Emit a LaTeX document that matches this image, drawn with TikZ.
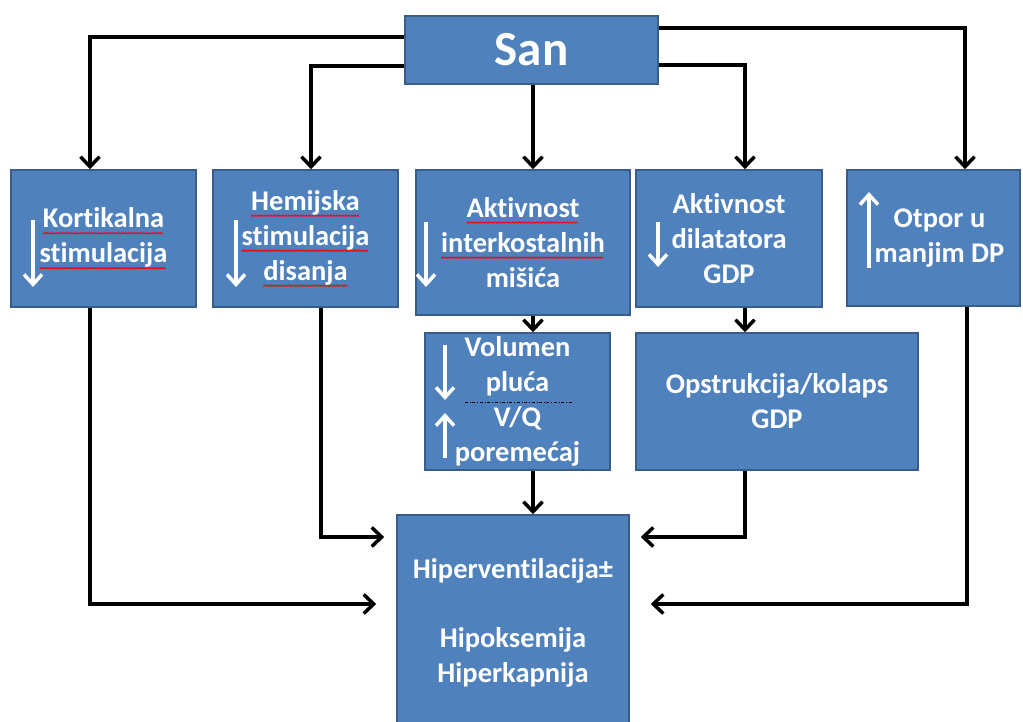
\documentclass[tikz,border=0pt]{standalone}
\usepackage{fontspec}
\setmainfont{Carlito}[Ligatures=NoCommon]
\usetikzlibrary{arrows.meta}

\definecolor{boxblue}{HTML}{4F81BD}
\definecolor{boxedge}{HTML}{385D8A}

% crvena valovita linija ispod rijeci
\newsavebox{\wavebox}
\sbox{\wavebox}{\tikz{\useasboundingbox (0pt,0pt) rectangle (3pt,1.5pt);
    \draw[red, line width=0.9pt] (0pt,0pt) -- (1.5pt,1.5pt) -- (3pt,0pt);}}
\newcommand{\spell}[1]{\setbox0\hbox{#1}\rlap{\raisebox{-6pt}{\leaders\copy\wavebox\hskip\wd0}}\box0}

\tikzset{
    blok/.style={draw=boxedge, line width=1.5pt, fill=boxblue, text=white, align=center,
        inner sep=0pt, font=\bfseries\fontsize{28.5}{35}\selectfont},
    veza/.style={line width=3.5pt, -{Straight Barb[length=10pt,width=19pt]}},
    trend/.style={white, line width=3.5pt, -{Straight Barb[length=10pt,width=18pt]}},
}

\begin{document}
\begin{tikzpicture}[x=1pt, y=-1pt]
    \useasboundingbox (0,0) rectangle (1023,722);

    \node[blok, minimum width=253pt, minimum height=68pt, font=\bfseries\fontsize{49}{52}\selectfont] (san) at (531.5,50) {San};

    \node[blok, minimum width=185pt, minimum height=137pt] (kort) at (103.5,238.5) {\spell{Kortikalna}\\\spell{stimulacija}};
    \node[blok, minimum width=185pt, minimum height=137pt] (hem) at (305.5,238.5) {\spell{Hemijska}\\\spell{stimulacija}\\\spell{disanja}};
    \node[blok, minimum width=214pt, minimum height=145pt] (inter) at (523,242.5) {\spell{Aktivnost}\\\spell{interkostalnih}\\mišića};
    \node[blok, minimum width=186pt, minimum height=137pt] (dil) at (729,238.5) {Aktivnost\\dilatatora\\GDP};
    \node[blok, minimum width=173pt, minimum height=136pt] (otp) at (933.5,238) {\hspace*{12pt}Otpor u\\\hspace*{12pt}manjim DP};

    \node[blok, minimum width=185pt, minimum height=137pt] (vol) at (517.5,401.5) {Volumen\\pluća\\V/Q\\poremećaj};
    \node[blok, minimum width=282pt, minimum height=137pt] (ops) at (777,401.5) {Opstrukcija/kolaps\\GDP};

    \node[blok, minimum width=232pt, minimum height=215pt] (hip) at (513,622.5) {Hiperventilacija±\\[34pt]Hipoksemija\\Hiperkapnija};

    % San -> uzroci
    \draw[veza] ([yshift=13pt]san.west) -| ([xshift=-13.5pt]kort.north);
    \draw[veza] ([yshift=-16pt]san.west) -| ([xshift=5.5pt]hem.north);
    \draw[veza] ([xshift=1.5pt]san.south) -- ([xshift=10pt]inter.north);
    \draw[veza] ([yshift=-15pt]san.east) -| ([xshift=16pt]dil.north);
    \draw[veza] ([yshift=22pt]san.east) -| ([xshift=31.5pt]otp.north);

    \draw[veza] ([xshift=10pt]inter.south) -- ([xshift=15.5pt]vol.north);
    \draw[veza] ([xshift=16pt]dil.south) -- ([xshift=-32pt]ops.north);

    % posljedice
    \draw[veza] ([xshift=15.5pt]vol.south) -- ([xshift=20pt]hip.north);
    \draw[veza] ([xshift=-13.5pt]kort.south) |- ([xshift=-20pt,yshift=18.5pt]hip.west);
    \draw[veza] ([xshift=15.5pt]hem.south) |- ([xshift=-12pt,yshift=85.5pt]hip.west);
    \draw[veza] ([xshift=-32pt]ops.south) |- ([xshift=11pt,yshift=85.5pt]hip.east);
    \draw[veza] ([xshift=33.5pt]otp.south) |- ([xshift=21pt,yshift=18.5pt]hip.east);

    % strelice u blokovima
    \draw[trend] (33,220) -- (33,287);
    \draw[trend] (236,220) -- (236,287);
    \draw[trend] (426,222) -- (426,287);
    \draw[trend] (658,222) -- (658,267);
    \draw[trend] (869,268) -- (869,192);
    \draw[trend] (445,345) -- (445,400);
    \draw[trend] (445,458) -- (445,413);
    \draw[dash dot, line width=1pt] (465,402) -- (572,402);
\end{tikzpicture}
\end{document}
